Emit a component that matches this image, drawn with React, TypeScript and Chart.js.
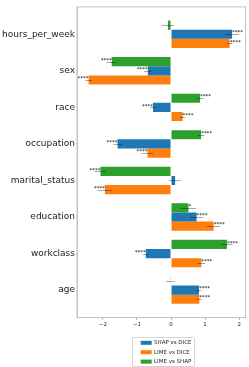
import React, { useEffect, useRef } from 'react';
import { Chart, registerables } from 'chart.js';

Chart.register(...registerables);

// ---------- data ----------
const categories = [
  'hours_per_week',
  'sex',
  'race',
  'occupation',
  'marital_status',
  'education',
  'workclass',
  'age',
];

const seriesLabels = ['SHAP vs DICE', 'LIME vs DICE', 'LIME vs SHAP'];

const shapVsDice = [1.79, -0.68, -0.53, -1.57, 0.12, 0.75, -0.74, 0.82];
const shapVsDiceErr = [0.2, 0.11, 0.08, 0.12, 0.17, 0.19, 0.08, 0.07];
const shapVsDiceStars = ['****', '****', '****', '****', '', '****', '****', '****'];

const limeVsDice = [1.72, -2.42, 0.34, -0.69, -1.94, 1.25, 0.89, 0.83];
const limeVsDiceErr = [0.08, 0.1, 0.08, 0.17, 0.22, 0.19, 0.11, 0.07];
const limeVsDiceStars = ['****', '****', '****', '****', '****', '****', '****', '****'];

const limeVsShap = [-0.09, -1.74, 0.85, 0.88, -2.07, 0.51, 1.64, -0.02];
const limeVsShapErr = [0.18, 0.15, 0.1, 0.1, 0.17, 0.23, 0.16, 0.12];
const limeVsShapStars = ['', '****', '****', '****', '****', '*', '****', ''];

const xTickValues = [-2, -1, 0, 1, 2];

// ---------- style ----------
const BLUE = '#1f77b4';
const ORANGE = '#ff7f0e';
const GREEN = '#2ca02c';
const FONT = '"DejaVu Sans", sans-serif';

export default function App() {
  const ref = useRef<HTMLCanvasElement>(null);

  useEffect(() => {
    if (!ref.current) return;

    // drawn top-to-bottom inside each group: green, blue, orange
    const series = [
      { label: seriesLabels[2], values: limeVsShap, err: limeVsShapErr, stars: limeVsShapStars, color: GREEN },
      { label: seriesLabels[0], values: shapVsDice, err: shapVsDiceErr, stars: shapVsDiceStars, color: BLUE },
      { label: seriesLabels[1], values: limeVsDice, err: limeVsDiceErr, stars: limeVsDiceStars, color: ORANGE },
    ];
    const legendItems = [
      { label: seriesLabels[0], color: BLUE },
      { label: seriesLabels[1], color: ORANGE },
      { label: seriesLabels[2], color: GREEN },
    ];

    const overlay = {
      id: 'overlay',
      afterDatasetsDraw(chart: any) {
        const ctx = chart.ctx;
        const xs = chart.scales.x;
        series.forEach((s, di) => {
          const meta = chart.getDatasetMeta(di);
          meta.data.forEach((el: any, j: number) => {
            const v = s.values[j];
            const e = s.err[j];
            const p = el.getProps(['x', 'y', 'height'], true);
            ctx.save();
            ctx.strokeStyle = 'rgba(0,0,0,0.35)';
            ctx.lineWidth = 1;
            const ly = Math.round(p.y) + 0.5;
            ctx.beginPath();
            ctx.moveTo(xs.getPixelForValue(v - e), ly);
            ctx.lineTo(xs.getPixelForValue(v + e), ly);
            ctx.stroke();
            if (s.stars[j]) {
              ctx.fillStyle = '#000';
              ctx.font = `5.5px ${FONT}`;
              ctx.textAlign = v >= 0 ? 'left' : 'right';
              ctx.textBaseline = 'alphabetic';
              ctx.fillText(s.stars[j], p.x, p.y - p.height / 2 + 4.75);
            }
            ctx.restore();
          });
        });
      },
      afterDraw(chart: any) {
        const ctx = chart.ctx;
        const ca = chart.chartArea;
        ctx.save();
        // frame
        ctx.strokeStyle = '#c4c4c4';
        ctx.lineWidth = 1;
        ctx.beginPath();
        ctx.moveTo(ca.left, ca.top + 0.5);
        ctx.lineTo(ca.right, ca.top + 0.5);
        ctx.moveTo(ca.right - 0.5, ca.top);
        ctx.lineTo(ca.right - 0.5, ca.bottom);
        ctx.moveTo(ca.left, ca.bottom - 0.5);
        ctx.lineTo(ca.right, ca.bottom - 0.5);
        ctx.stroke();
        ctx.lineWidth = 1.5;
        ctx.beginPath();
        ctx.moveTo(ca.left - 0.75, ca.top);
        ctx.lineTo(ca.left - 0.75, ca.bottom);
        ctx.stroke();

        // legend
        const cx = (ca.left + ca.right) / 2;
        const x0 = Math.round(cx - 30) + 0.5;
        const y0 = chart.height - 29.5;
        const w = 62;
        const h = 29;
        const r = 1.5;
        ctx.beginPath();
        ctx.moveTo(x0 + r, y0);
        ctx.lineTo(x0 + w - r, y0);
        ctx.quadraticCurveTo(x0 + w, y0, x0 + w, y0 + r);
        ctx.lineTo(x0 + w, y0 + h - r);
        ctx.quadraticCurveTo(x0 + w, y0 + h, x0 + w - r, y0 + h);
        ctx.lineTo(x0 + r, y0 + h);
        ctx.quadraticCurveTo(x0, y0 + h, x0, y0 + h - r);
        ctx.lineTo(x0, y0 + r);
        ctx.quadraticCurveTo(x0, y0, x0 + r, y0);
        ctx.fillStyle = 'rgba(255,255,255,0.8)';
        ctx.fill();
        ctx.strokeStyle = '#d6d6d6';
        ctx.lineWidth = 1;
        ctx.stroke();

        ctx.font = `5.5px ${FONT}`;
        ctx.textAlign = 'left';
        ctx.textBaseline = 'middle';
        legendItems.forEach((it, i) => {
          const ry = y0 + 5.3 + i * 9.4;
          ctx.fillStyle = it.color;
          ctx.fillRect(cx - 21.3, ry - 2, 11, 4);
          ctx.fillStyle = '#222';
          ctx.fillText(it.label, cx - 8, ry);
        });
        ctx.restore();
      },
    };

    const chart = new Chart(ref.current, {
      type: 'bar',
      data: {
        datasets: series.map((s) => ({
          label: s.label,
          data: s.values.map((v, i) => ({ x: v, y: i })),
          backgroundColor: s.color,
          borderWidth: 0,
          categoryPercentage: 0.75,
          barPercentage: 1,
        })),
      },
      options: {
        indexAxis: 'y',
        animation: false,
        responsive: false,
        devicePixelRatio: 1,
        events: [],
        layout: { padding: { left: 0, top: 2, right: 3, bottom: 37 } },
        plugins: {
          legend: { display: false },
          tooltip: { enabled: false },
        },
        scales: {
          x: {
            type: 'linear',
            position: 'bottom',
            min: -2.73,
            max: 2.2,
            afterBuildTicks: (scale: any) => {
              scale.ticks = xTickValues.map((v) => ({ value: v }));
            },
            afterFit: (scale: any) => {
              scale.height = 12;
            },
            grid: { drawOnChartArea: false, drawTicks: true, tickLength: 2, color: '#bbbbbb' },
            border: { display: false },
            ticks: {
              font: { family: FONT, size: 5.5 },
              color: '#222',
              padding: 1,
              maxRotation: 0,
              autoSkip: false,
              callback: (v: any) => (v < 0 ? '\u2212' + Math.abs(v) : String(v)),
            },
          },
          y: {
            type: 'linear',
            position: 'left',
            reverse: true,
            offset: false,
            min: -0.7625,
            max: 7.7625,
            afterBuildTicks: (scale: any) => {
              scale.ticks = categories.map((_, i) => ({ value: i }));
            },
            afterFit: (scale: any) => {
              scale.width = 78;
            },
            grid: { drawOnChartArea: false, drawTicks: true, tickLength: 2, color: '#bbbbbb', offset: false },
            border: { display: false },
            ticks: {
              font: { family: FONT, size: 9 },
              color: '#222',
              padding: 1,
              autoSkip: false,
              callback: (v: any) => categories[v] ?? '',
            },
          },
        },
      },
      plugins: [overlay],
    } as any);

    return () => chart.destroy();
  }, []);

  return (
    <div style={{ position: 'absolute', left: 0, top: 0, width: 249, height: 367, background: '#fff' }}>
      <canvas ref={ref} width={249} height={367} style={{ display: 'block' }} />
    </div>
  );
}
